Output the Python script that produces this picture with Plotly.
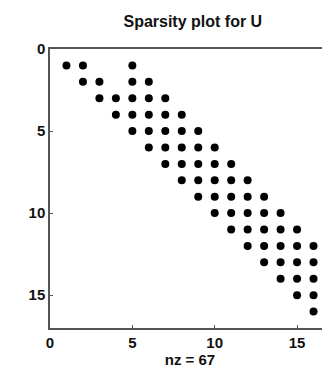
import plotly.graph_objects as go

# Nonzero pattern of U: for each row, the columns holding nonzeros
rows_idx = list(range(1, 17))
row_cols = [
    [1, 2, 5],
    [2, 3, 5, 6],
    [3, 4, 5, 6, 7],
    [4, 5, 6, 7, 8],
    [5, 6, 7, 8, 9],
    [6, 7, 8, 9, 10],
    [7, 8, 9, 10, 11],
    [8, 9, 10, 11, 12],
    [9, 10, 11, 12, 13],
    [10, 11, 12, 13, 14],
    [11, 12, 13, 14, 15],
    [12, 13, 14, 15, 16],
    [13, 14, 15, 16],
    [14, 15, 16],
    [15, 16],
    [16],
]
tick_vals = [0, 5, 10, 15]
tick_text = ["0", "5", "10", "15"]

xs, ys = [], []
for r, cols in zip(rows_idx, row_cols):
    for c in cols:
        xs.append(c)
        ys.append(r)
nz = len(xs)

font = "Liberation Sans, Arial, sans-serif"
fnt = dict(family=font, size=15, color="#111", weight="bold")
fig = go.Figure(go.Scatter(
    x=xs, y=ys, mode="markers",
    marker=dict(color="black", size=8, line=dict(width=0)),
    hoverinfo="skip",
))

axis_common = dict(
    showgrid=False, zeroline=False, showline=True, linecolor="#555", linewidth=1.5,
    mirror=True, ticks="inside", ticklen=3, tickcolor="#555",
    tickvals=tick_vals, ticktext=tick_text,
    tickfont=fnt, automargin=False,
)
fig.update_layout(
    width=330, height=374,
    margin=dict(l=42, r=8, t=41, b=54),
    paper_bgcolor="white", plot_bgcolor="white",
    showlegend=False,
    title=dict(text="Sparsity plot for U", x=0.56, xanchor="center", y=0.965, yanchor="middle",
               font=dict(family=font, size=16, color="#111", weight="bold")),
    xaxis=dict(range=[0, 17], title=dict(text=f"nz = {nz}", standoff=2, font=fnt),
               **axis_common),
    yaxis=dict(range=[17, 0], **axis_common),
)
fig.write_html("out.html")
